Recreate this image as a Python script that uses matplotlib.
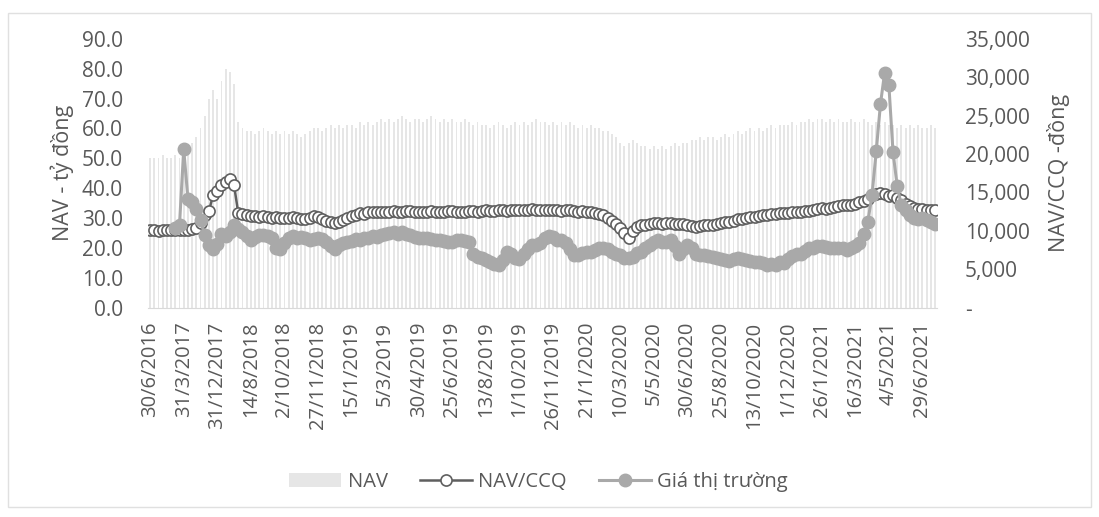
import numpy as np
import matplotlib
matplotlib.use('Agg')
import matplotlib.pyplot as plt
from matplotlib.ticker import FuncFormatter, FixedLocator
from matplotlib.patches import Rectangle

plt.rcParams['font.family'] = ['Open Sans', 'DejaVu Sans']

## ---------------------- DATA --------------------------------
tick_labels = ['30/6/2016', '31/3/2017', '31/12/2017', '14/8/2018', '2/10/2018', '27/11/2018',
               '15/1/2019', '5/3/2019', '30/4/2019', '25/6/2019', '13/8/2019', '1/10/2019',
               '26/11/2019', '21/1/2020', '10/3/2020', '5/5/2020', '30/6/2020', '25/8/2020',
               '13/10/2020', '1/12/2020', '26/1/2021', '16/3/2021', '4/5/2021', '29/6/2021']

# NAV - ty dong (left axis)
nav = [50, 50, 50, 51, 50, 50, 51, 50,
       52, 54, 55, 57, 60, 64, 70, 73,
       70, 76, 80, 79, 75, 62, 60, 59,
       59, 58, 59, 60, 59, 58, 59, 58,
       59, 58, 59, 58, 57, 58, 59, 60,
       60, 59, 60, 61, 60, 61, 60, 61,
       61, 60, 62, 61, 62, 61, 62, 63,
       62, 63, 62, 63, 64, 63, 62, 63,
       63, 62, 63, 64, 63, 62, 63, 62,
       63, 62, 62, 63, 62, 61, 62, 61,
       61, 60, 61, 62, 61, 60, 61, 62,
       61, 62, 61, 62, 63, 62, 62, 61,
       62, 61, 62, 61, 62, 61, 60, 61,
       60, 61, 60, 60, 59, 59, 58, 57,
       55, 54, 55, 56, 55, 54, 54, 53,
       54, 53, 54, 53, 54, 55, 54, 55,
       55, 56, 56, 57, 56, 57, 57, 56,
       57, 58, 57, 58, 59, 58, 59, 60,
       59, 60, 59, 60, 61, 60, 61, 61,
       61, 62, 61, 62, 62, 63, 62, 63,
       63, 62, 63, 62, 63, 62, 62, 63,
       62, 62, 63, 62, 61, 62, 61, 62,
       61, 61, 60, 61, 60, 61, 60, 61,
       60, 60, 61, 60]

# NAV/CCQ - dong (right axis)
nav_ccq = [10050, 10050, 10030, 10050, 10060, 10040, 10050, 10060, 10080, 10100,
           10200, 10400, 11000, 12000, 12600, 14600, 15200, 16000, 16400, 16700, 15900, 12300,
           12200, 12000, 11900, 11950, 11800, 11900, 11800, 11700, 11800, 11700, 11650, 11700,
           11800, 11650, 11550, 11600, 11700, 11900, 11800, 11600, 11300, 11100, 11000, 11150,
           11400, 11700, 11900, 12100, 12300, 12200, 12400, 12450, 12500, 12400, 12450, 12500,
           12600, 12500, 12450, 12550, 12600, 12500, 12450, 12400, 12500, 12550, 12450, 12400,
           12500, 12600, 12550, 12450, 12400, 12500, 12600, 12550, 12500, 12600, 12650, 12550,
           12600, 12700, 12650, 12600, 12700, 12750, 12650, 12700, 12750, 12800, 12700, 12650,
           12700, 12750, 12700, 12650, 12600, 12650, 12700, 12600, 12500, 12550, 12450, 12400,
           12300, 12200, 12000, 11700, 11300, 10900, 10400, 9700, 9100, 10000, 10500, 10700,
           10800, 10900, 11050, 11000, 10950, 11000, 11050, 10900, 10850, 10900, 10700, 10600,
           10550, 10600, 10700, 10750, 10800, 10900, 11000, 11100, 11200, 11300, 11500, 11600,
           11700, 11800, 11750, 11900, 12000, 12100, 12200, 12250, 12300, 12350, 12300, 12400,
           12450, 12500, 12550, 12600, 12700, 12900, 13000, 12800, 13000, 13100, 13200, 13300,
           13300, 13400, 13500, 13700, 13900, 14200, 14600, 14800, 14900, 14800, 14500, 14600,
           14300, 14000, 13500, 13200, 13000, 12900, 12800, 12750, 12700, 12650]

# Gia thi truong - dong (right axis)
gia_tt = [np.nan, np.nan, np.nan, np.nan, np.nan, np.nan,
          10300, 10800, 20600, 14200, 13800, 12800, 11400, 9400, 8100, 7600,
          8300, 9600, 9300, 9800, 10700, 10200, 9800, 9300, 8800, 9200,
          9500, 9400, 9300, 9000, 7700, 7600, 8400, 9100, 9300, 9100,
          9200, 9000, 8800, 8900, 9100, 8900, 8600, 8000, 7600, 8200,
          8400, 8600, 8700, 8900, 8800, 9000, 9100, 9300, 9200, 9400,
          9600, 9700, 9800, 9600, 9800, 9600, 9400, 9200, 9100, 9100,
          9000, 8900, 8800, 8800, 8700, 8600, 8600, 8800, 8800, 8700,
          8500, 7000, 6600, 6500, 6200, 6000, 5700, 5600, 6200, 7200,
          7000, 6400, 6300, 7000, 7600, 8100, 8100, 8400, 9000, 9300,
          9200, 8800, 8800, 8400, 7600, 6900, 6800, 7100, 7300, 7300,
          7500, 7700, 7800, 7600, 7300, 7000, 6800, 6500, 6400, 6600,
          7100, 7300, 7700, 8200, 8500, 8800, 8500, 8600, 8800, 8000,
          7000, 7600, 8200, 7800, 7000, 6900, 6800, 6700, 6600, 6500,
          6300, 6200, 6100, 6300, 6400, 6300, 6200, 6100, 6000, 6000,
          5800, 5600, 5700, 5600, 5900, 5800, 6300, 6700, 7000, 7000,
          7400, 7800, 7800, 8000, 8000, 7900, 7800, 7700, 7800, 7700,
          7500, 7700, 8000, 8400, 9600, 11200, 14700, 20400, 26500, 30600,
          29000, 20200, 15800, 13300, 12700, 12000, 11700, 11500, 11700, 11400,
          11100, 10900]

## ---------------------- PLOT --------------------------------
txt = '#595959'
x = np.arange(len(nav))

fig = plt.figure(figsize=(10.99, 5.17), dpi=100)
ax = fig.add_axes([0.1347, 0.405, 0.718, 0.52])
ax2 = ax.twinx()

ax.bar(x, nav, width=0.45, color='#e6e6e6', label='NAV', zorder=1)
ax2.plot(x, nav_ccq, color='#5f5f5f', lw=1.8, marker='o', ms=8, mfc='white',
         mec='#5f5f5f', mew=1.2, label='NAV/CCQ')
ax2.plot(x, gia_tt, color='#a9a9a9', lw=2.2, marker='o', ms=9, mfc='#a9a9a9',
         mec='#a9a9a9', label='Giá thị trường')

ax.set_xlim(-0.5, len(nav) - 0.5)
ax.set_ylim(0, 90)
ax2.set_ylim(0, 35000)
ax.set_yticks(np.arange(0, 91, 10))
ax2.set_yticks(np.arange(0, 35001, 5000))
ax.yaxis.set_major_formatter(FuncFormatter(lambda v, p: '%.1f' % v))
ax2.yaxis.set_major_formatter(FuncFormatter(lambda v, p: '-' if v == 0 else '{:,.0f}'.format(v)))

ax.xaxis.set_major_locator(FixedLocator(x[::8][:len(tick_labels)]))
ax.set_xticklabels(tick_labels, rotation=90)

for a in (ax, ax2):
    for s in a.spines.values():
        s.set_visible(False)
    a.tick_params(length=0)
ax.spines['bottom'].set_visible(True)
ax.spines['bottom'].set_color('#d9d9d9')
ax.tick_params(axis='x', pad=10, labelsize=14.5, labelcolor=txt)
ax.tick_params(axis='y', labelsize=15, labelcolor=txt, pad=18)
ax2.tick_params(axis='y', labelsize=15, labelcolor=txt, pad=20)

ax.set_ylabel('NAV - tỷ đồng', fontsize=15.5, color=txt, labelpad=6)
ax2.set_ylabel('NAV/CCQ -đồng', fontsize=15.5, color=txt, labelpad=12)

h1, l1 = ax.get_legend_handles_labels()
h2, l2 = ax2.get_legend_handles_labels()
fig.legend(h1 + h2, l1 + l2, loc='center', bbox_to_anchor=(0.49, 0.068), ncol=3,
           frameon=False, fontsize=14.5, labelcolor=txt, handlelength=2.6,
           handletextpad=0.3, columnspacing=1.6)

# light frame around chart area
fig.patches.append(Rectangle((0.007, 0.02), 0.986, 0.955, transform=fig.transFigure,
                             fill=False, edgecolor='#e0e0e0', lw=1))

fig.savefig('out.png', dpi=100)
